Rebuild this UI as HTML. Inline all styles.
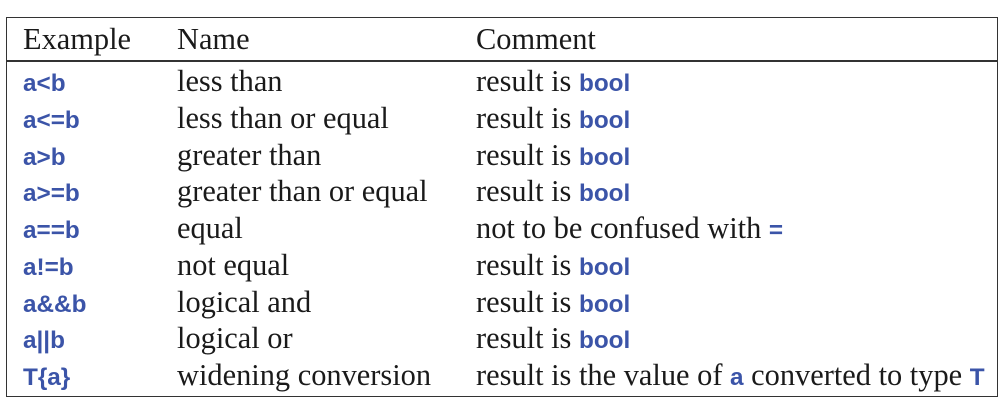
<!DOCTYPE html>
<html><head><meta charset="utf-8"><style>
body{margin:0;width:1005px;height:405px;background:#fff;position:relative;overflow:hidden;font-family:"Liberation Serif",serif;color:#1a1a1a}
#box{position:absolute;left:6px;top:17px;width:992px;height:380px;border:1.5px solid #333;box-sizing:border-box}
#hl{position:absolute;left:6px;top:60px;width:992px;height:1.5px;background:#333}
.c{position:absolute;font-size:30.4px;white-space:nowrap;line-height:36px}
.k{font-family:"Liberation Sans",sans-serif;font-weight:bold;color:#3b54a8;font-size:24.3px}
</style></head><body>
<div id="box"></div>
<div id="hl"></div>
<div class="c" style="left:23px;top:21px">Example</div>
<div class="c" style="left:177px;top:21px">Name</div>
<div class="c" style="left:476px;top:21px">Comment</div>
<div id="rows"></div>
<script>
const ex=["a<b","a<=b","a>b","a>=b","a==b","a!=b","a&&b","a||b","T{a}"];
const names=["less than","less than or equal","greater than","greater than or equal","equal","not equal","logical and","logical or","widening conversion"];
const comments=['result is <span class="k">bool</span>','result is <span class="k">bool</span>','result is <span class="k">bool</span>','result is <span class="k">bool</span>','not to be confused with <span class="k">=</span>','result is <span class="k">bool</span>','result is <span class="k">bool</span>','result is <span class="k">bool</span>','result is the value of <span class="k">a</span> converted to type <span class="k">T</span>'];
const R=document.getElementById('rows');
ex.forEach((e,i)=>{
  const top=63+i*36.75;
  const a=document.createElement('div');a.className='c';a.style.left='23px';a.style.top=top+'px';
  const s=document.createElement('span');s.className='k';s.textContent=e;a.appendChild(s);
  
  
  const b=document.createElement('div');b.className='c';b.style.left='177px';b.style.top=top+'px';b.textContent=names[i];
  
  
  const c=document.createElement('div');c.className='c';c.style.left='476px';c.style.top=top+'px';c.innerHTML=comments[i];
  
  
  R.append(a,b,c);
});
</script>
</body></html>
